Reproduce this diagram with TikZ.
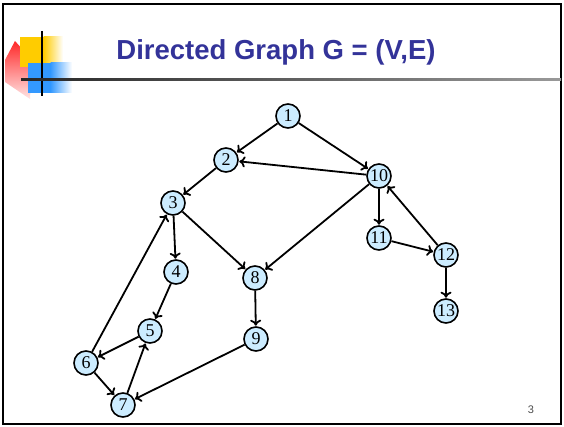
\documentclass[tikz,border=0pt]{standalone}
\usepackage{fontspec}
\setmainfont{Liberation Serif}
\setsansfont{Liberation Sans}
\usetikzlibrary{arrows.meta}
\definecolor{title_blue}{RGB}{51,51,153}
\definecolor{vertex_blue}{RGB}{204,236,255}
\definecolor{deco_yellow}{RGB}{255,204,0}
\definecolor{deco_blue}{RGB}{51,153,255}
\definecolor{deco_red}{RGB}{255,40,40}

\begin{document}
\begin{tikzpicture}[x=1pt, y=-1pt,
    vertex/.style={circle, draw, line width=1.6pt, fill=vertex_blue,
        minimum size=24pt, inner sep=0pt, font=\fontsize{18}{18}\selectfont},
    edge/.style={-{To[length=6pt,width=11pt]}, line width=1.8pt, shorten >=0.5pt}]
    \useasboundingbox (0,0) rectangle (564,427);

    % Slide frame
    \draw[line width=2pt] (3,4) rectangle (561,424);

    % Corner decoration
    \shade[top color=deco_red, bottom color=red!10] (15,41) -- (5,60) -- (5,82) -- (30,99) -- (32,60) -- cycle;
    \fill[deco_yellow] (20,37) rectangle (44,67);
    \shade[left color=deco_yellow, right color=white] (43.5,37) rectangle (63,67);
    \fill[deco_blue] (28,63) rectangle (51,93);
    \shade[left color=deco_blue, right color=white] (50.5,63) rectangle (72,93);
    \draw[line width=1.5pt] (42,31) -- (42,96);
    \shade[left color=black!85, right color=black!40] (21,79) rectangle (561,81);

    % Title
    \node[font=\sffamily\bfseries\fontsize{27.5}{27.5}\selectfont, text=title_blue] (title) at (276,52) {Directed Graph G = (V,E)};

    % Vertices
    \node[vertex] (n1) at (288,116) {1};
    \node[vertex] (n2) at (226,160) {2};
    \node[vertex] (n10) at (379,176) {10};
    \node[vertex] (n3) at (173,203) {3};
    \node[vertex] (n4) at (176,272) {4};
    \node[vertex] (n8) at (255,278) {8};
    \node[vertex] (n11) at (379,238) {11};
    \node[vertex] (n12) at (446,255) {12};
    \node[vertex] (n13) at (446,311) {13};
    \node[vertex] (n5) at (150,331) {5};
    \node[vertex] (n9) at (256,339) {9};
    \node[vertex] (n6) at (86,363) {6};
    \node[vertex] (n7) at (123,405) {7};

    % Edges
    \draw[edge] (n1) -- (n2);
    \draw[edge] (n1) -- (n10);
    \draw[edge] (n10) -- (n2);
    \draw[edge] (n2) -- (n3);
    \draw[edge] (n3) -- (n4);
    \draw[edge] (n3) -- (n8);
    \draw[edge] (n10) -- (n8);
    \draw[edge] (n10) -- (n11);
    \draw[edge] (n11) -- (n12);
    \draw[edge] (n12) -- (n10);
    \draw[edge] (n12) -- (n13);
    \draw[edge] (n8) -- (n9);
    \draw[edge] (n4) -- (n5);
    \draw[edge] (n5) -- (n6);
    \draw[edge] (n6) -- (n3);
    \draw[edge] (n6) -- (n7);
    \draw[edge] (n7) -- (n5);
    \draw[edge] (n9) -- (n7);

    % Page number
    \node[font=\sffamily\fontsize{11}{11}\selectfont, text=black!70] (pagenum) at (531,410) {3};
\end{tikzpicture}
\end{document}
